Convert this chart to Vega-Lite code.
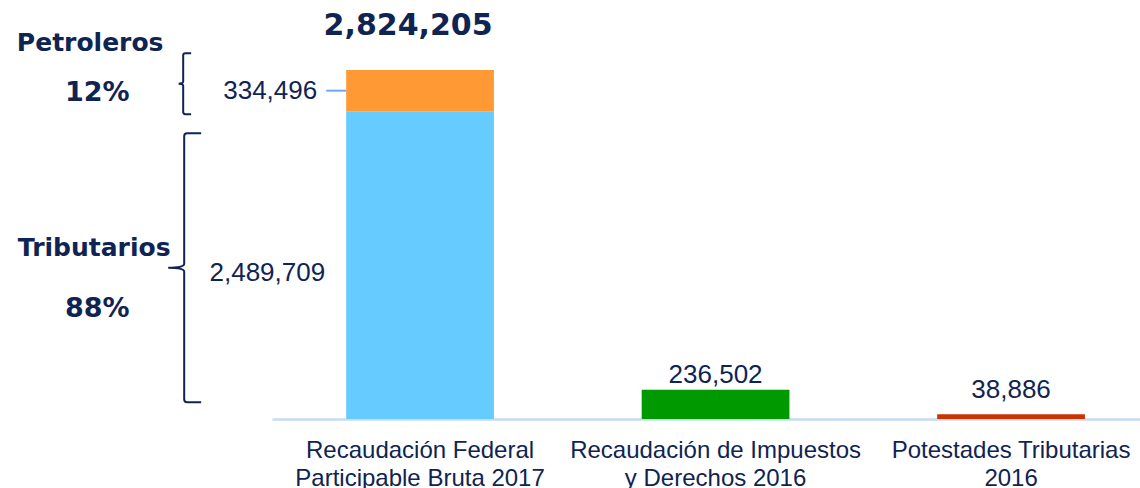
{
  "$schema": "https://vega.github.io/schema/vega-lite/v6.json",
  "autosize": "none",
  "width": 868,
  "height": 349,
  "padding": {"left": 272, "top": 70, "right": 0, "bottom": 69},
  "background": "white",
  "config": {"view": {"stroke": null}},
  "datasets": {
    "parts": [
      {"cat": "Recaudación Federal|Participable Bruta 2017", "part": "Tributarios", "value": 2489709, "ord": 1, "pct": "88%"},
      {"cat": "Recaudación Federal|Participable Bruta 2017", "part": "Petroleros", "value": 334496, "ord": 2, "pct": "12%"},
      {"cat": "Recaudación de Impuestos|y Derechos 2016", "part": "Impuestos y Derechos", "value": 236502, "ord": 1, "pct": ""},
      {"cat": "Potestades Tributarias|2016", "part": "Potestades", "value": 38886, "ord": 1, "pct": ""}
    ],
    "totals": [
      {"cat": "Recaudación Federal|Participable Bruta 2017", "total": 2824205}
    ]
  },
  "data": {"name": "parts"},
  "transform": [
    {"stack": "value", "groupby": ["cat"], "sort": [{"field": "ord"}], "as": ["y0", "y1"]},
    {"calculate": "(datum.y0 + datum.y1) / 2", "as": "mid"}
  ],
  "encoding": {
    "x": {
      "field": "cat", "type": "nominal", "sort": null,
      "scale": {"domain": ["Recaudación Federal|Participable Bruta 2017", "Recaudación de Impuestos|y Derechos 2016", "Potestades Tributarias|2016"], "paddingInner": 0.5, "paddingOuter": 0.2187, "align": 0.574, "round": false},
      "axis": {
        "title": null, "labelAngle": 0, "ticks": false, "tickSize": 0,
        "labelExpr": "split(datum.label, '|')",
        "labelFont": "Liberation Sans", "labelFontSize": 24, "labelColor": "#0f2452",
        "labelLineHeight": 28, "labelBaseline": "alphabetic", "labelPadding": 38,
        "labelLimit": 600, "labelOverlap": false, "labelBound": false,
        "domainColor": "#c6dbf4", "domainWidth": 2.5
      }
    }
  },
  "layer": [
    {
      "mark": {"type": "bar"},
      "encoding": {
        "y": {"field": "y1", "type": "quantitative", "scale": {"domain": [0, 2824205], "nice": false, "zero": true}, "axis": null},
        "y2": {"field": "y0"},
        "color": {"field": "part", "type": "nominal", "legend": null,
          "scale": {"domain": ["Tributarios", "Petroleros", "Impuestos y Derechos", "Potestades"], "range": ["#66ccff", "#ff9933", "#009900", "#cc3300"]}}
      }
    },
    {
      "data": {"name": "totals"},
      "transform": [],
      "mark": {"type": "text", "font": "DejaVu Sans", "fontWeight": "bold", "fontSize": 30, "color": "#0f2452", "align": "center", "baseline": "alphabetic", "dy": -35, "dx": -12},
      "encoding": {
        "y": {"field": "total", "type": "quantitative"},
        "text": {"field": "total", "type": "quantitative", "format": ","}
      }
    },
    {
      "transform": [{"filter": "datum.part == 'Impuestos y Derechos'"}],
      "mark": {"type": "text", "font": "Liberation Sans", "fontSize": 26, "color": "#0f2452", "align": "center", "baseline": "alphabetic", "dy": -7},
      "encoding": {
        "y": {"field": "y1", "type": "quantitative"},
        "text": {"field": "value", "type": "quantitative", "format": ","}
      }
    },
    {
      "transform": [{"filter": "datum.part == 'Potestades'"}],
      "mark": {"type": "text", "font": "Liberation Sans", "fontSize": 26, "color": "#0f2452", "align": "center", "baseline": "alphabetic", "dy": -16},
      "encoding": {
        "y": {"field": "y1", "type": "quantitative"},
        "text": {"field": "value", "type": "quantitative", "format": ","}
      }
    },
    {
      "transform": [{"filter": "datum.part == 'Petroleros'"}],
      "mark": {"type": "text", "font": "Liberation Sans", "fontSize": 26, "color": "#0f2452", "align": "right", "baseline": "middle", "dx": -29},
      "encoding": {
        "x": {"field": "cat", "type": "nominal", "bandPosition": 0},
        "y": {"field": "mid", "type": "quantitative"},
        "text": {"field": "value", "type": "quantitative", "format": ","}
      }
    },
    {
      "transform": [{"filter": "datum.part == 'Tributarios'"}],
      "mark": {"type": "text", "font": "Liberation Sans", "fontSize": 26, "color": "#0f2452", "align": "right", "baseline": "middle", "dx": -21, "dy": 8},
      "encoding": {
        "x": {"field": "cat", "type": "nominal", "bandPosition": 0},
        "y": {"field": "mid", "type": "quantitative"},
        "text": {"field": "value", "type": "quantitative", "format": ","}
      }
    },
    {
      "transform": [{"filter": "datum.part == 'Petroleros'"}],
      "mark": {"type": "point", "shape": "M -1 0 L 1 0", "size": 400, "filled": false, "stroke": "#6fa8f5", "strokeWidth": 2, "opacity": 1, "xOffset": -10},
      "encoding": {
        "x": {"field": "cat", "type": "nominal", "bandPosition": 0},
        "y": {"field": "mid", "type": "quantitative"}
      }
    },
    {
      "transform": [{"filter": "datum.part == 'Petroleros'"}],
      "mark": {"type": "point", "shape": "M 0.26 -1 L 0.07 -1 Q 0 -1 0 -0.93 L 0 -0.07 Q 0 0 -0.15 0 Q 0 0 0 0.07 L 0 0.93 Q 0 1 0.07 1 L 0.26 1", "size": 3721, "filled": false, "stroke": "#0f2452", "strokeWidth": 2, "opacity": 1, "xOffset": -163, "yOffset": -7},
      "encoding": {
        "x": {"field": "cat", "type": "nominal", "bandPosition": 0},
        "y": {"field": "mid", "type": "quantitative"}
      }
    },
    {
      "transform": [{"filter": "datum.part == 'Tributarios'"}],
      "mark": {"type": "point", "shape": "M 0.126 -1 L 0.022 -1 Q 0 -1 0 -0.978 L 0 -0.03 Q 0 0 -0.119 0 Q 0 0 0 0.03 L 0 0.978 Q 0 1 0.022 1 L 0.126 1", "size": 72361, "filled": false, "stroke": "#0f2452", "strokeWidth": 2, "opacity": 1, "xOffset": -162, "yOffset": 2.5},
      "encoding": {
        "x": {"field": "cat", "type": "nominal", "bandPosition": 0},
        "y": {"field": "mid", "type": "quantitative"}
      }
    },
    {
      "transform": [{"filter": "datum.part == 'Petroleros'"}],
      "mark": {"type": "text", "font": "DejaVu Sans", "fontWeight": "bold", "fontSize": 25, "color": "#0f2452", "align": "center", "baseline": "alphabetic", "dx": -256, "dy": -39.6},
      "encoding": {
        "x": {"field": "cat", "type": "nominal", "bandPosition": 0},
        "y": {"field": "mid", "type": "quantitative"},
        "text": {"field": "part"}
      }
    },
    {
      "transform": [{"filter": "datum.part == 'Petroleros'"}],
      "mark": {"type": "text", "font": "DejaVu Sans", "fontWeight": "bold", "fontSize": 27, "color": "#0f2452", "align": "center", "baseline": "alphabetic", "dx": -249, "dy": 10.4},
      "encoding": {
        "x": {"field": "cat", "type": "nominal", "bandPosition": 0},
        "y": {"field": "mid", "type": "quantitative"},
        "text": {"field": "pct"}
      }
    },
    {
      "transform": [{"filter": "datum.part == 'Tributarios'"}],
      "mark": {"type": "text", "font": "DejaVu Sans", "fontWeight": "bold", "fontSize": 25, "color": "#0f2452", "align": "center", "baseline": "alphabetic", "dx": -252, "dy": -9.2},
      "encoding": {
        "x": {"field": "cat", "type": "nominal", "bandPosition": 0},
        "y": {"field": "mid", "type": "quantitative"},
        "text": {"field": "part"}
      }
    },
    {
      "transform": [{"filter": "datum.part == 'Tributarios'"}],
      "mark": {"type": "text", "font": "DejaVu Sans", "fontWeight": "bold", "fontSize": 27, "color": "#0f2452", "align": "center", "baseline": "alphabetic", "dx": -249, "dy": 51.5},
      "encoding": {
        "x": {"field": "cat", "type": "nominal", "bandPosition": 0},
        "y": {"field": "mid", "type": "quantitative"},
        "text": {"field": "pct"}
      }
    }
  ]
}
